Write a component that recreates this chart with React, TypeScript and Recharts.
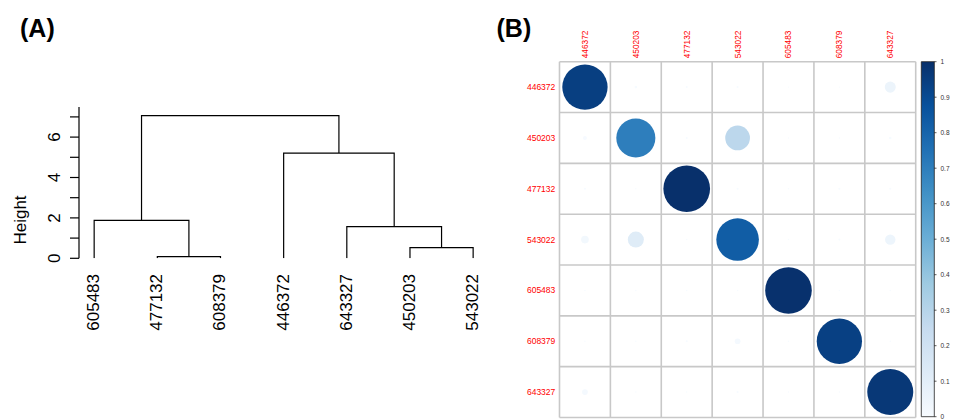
import React from "react";
import {
  LineChart,
  Line,
  XAxis,
  YAxis,
  ScatterChart,
  Scatter,
  ZAxis,
  Cell,
  ReferenceLine,
  BarChart,
  Bar,
} from "recharts";

const FONT = "'Liberation Sans', Arial, Helvetica, sans-serif";

// (A) dendrogram: leaves in plotted order, merges like hclust
// (negative = leaf position, positive = earlier merge step)
const leafOrder = ["605483", "477132", "608379", "446372", "643327", "450203", "543022"];
const mergeLeft = [-2, -6, -5, -1, -4, 4];
const mergeRight = [-3, -7, 2, 1, 3, 5];
const mergeHeight = [0.08, 0.53, 1.57, 1.88, 5.21, 7.06];
const heightTicks = [0, 1, 2, 3, 4, 5, 6, 7];
const heightLabels = [0, 2, 4, 6];

// (B) matrix plot
const sampleLabels = ["446372", "450203", "477132", "543022", "605483", "608379", "643327"];
const row446372 = [0.943, 0.003, 0.002, 0.002, 0.001, 0.001, 0.056];
const row450203 = [0.007, 0.7, 0.002, 0.28, 0.001, 0.001, 0.003];
const row477132 = [0.002, 0.001, 1.0, 0.002, 0.001, 0.002, 0.002];
const row543022 = [0.027, 0.118, 0.001, 0.83, 0.001, 0.002, 0.05];
const row605483 = [0.001, 0.001, 0.001, 0.001, 0.995, 0.001, 0.001];
const row608379 = [0.001, 0.001, 0.002, 0.015, 0.001, 0.94, 0.001];
const row643327 = [0.015, 0.001, 0.001, 0.002, 0.001, 0.001, 0.97];
const matrixRows = [row446372, row450203, row477132, row543022, row605483, row608379, row643327];
const colorbarTicks = [0, 0.1, 0.2, 0.3, 0.4, 0.5, 0.6, 0.7, 0.8, 0.9, 1];

const BLUES = ["#F7FBFF", "#DEEBF7", "#C6DBEF", "#9ECAE1", "#6BAED6", "#4292C6", "#2171B5", "#08519C", "#08306B"];

function hexToRgb(h: string) {
  return [1, 3, 5].map((i) => parseInt(h.slice(i, i + 2), 16));
}

function blues(v: number) {
  const t = Math.max(0, Math.min(1, v)) * (BLUES.length - 1);
  const i = Math.min(Math.floor(t), BLUES.length - 2);
  const f = t - i;
  const a = hexToRgb(BLUES[i]);
  const b = hexToRgb(BLUES[i + 1]);
  const c = a.map((x, k) => Math.round(x + (b[k] - x) * f));
  return `rgb(${c[0]},${c[1]},${c[2]})`;
}

// build dendrogram link paths from the merge table
const nodeX: number[] = [];
const nodeH: number[] = [];
const links: { x: number; y: number }[][] = [];
mergeLeft.forEach((l, i) => {
  const r = mergeRight[i];
  const lx = l < 0 ? -l : nodeX[l - 1];
  const rx = r < 0 ? -r : nodeX[r - 1];
  const lh = l < 0 ? 0 : nodeH[l - 1];
  const rh = r < 0 ? 0 : nodeH[r - 1];
  const h = mergeHeight[i];
  nodeX.push((lx + rx) / 2);
  nodeH.push(h);
  links.push([
    { x: lx, y: lh },
    { x: lx, y: h },
    { x: rx, y: h },
    { x: rx, y: rh },
  ]);
});

const cells: { col: number; row: number; v: number }[] = [];
matrixRows.forEach((vals, r) => {
  vals.forEach((v, c) => cells.push({ col: c + 1, row: r + 1, v }));
});

const idx = [1, 2, 3, 4, 5, 6, 7];
const gridPos = [0.5, 1.5, 2.5, 3.5, 4.5, 5.5, 6.5, 7.5];

const LeafTick = (props: any) => {
  const { x, y, payload } = props;
  return (
    <text
      transform={`translate(${x + 5},${y + 15.7}) rotate(-90)`}
      textAnchor="end"
      fontSize={17}
      fontFamily={FONT}
      fill="#000"
    >
      {leafOrder[payload.value - 1]}
    </text>
  );
};

const HeightTick = (props: any) => {
  const { x, y, payload } = props;
  if (!heightLabels.includes(payload.value)) return <g />;
  return (
    <text
      transform={`translate(${x - 10.5},${y}) rotate(-90)`}
      textAnchor="middle"
      fontSize={17}
      fontFamily={FONT}
      fill="#000"
    >
      {payload.value}
    </text>
  );
};

const ColTick = (props: any) => {
  const { x, y, payload } = props;
  return (
    <text
      transform={`translate(${x + 3},${y - 3.4}) rotate(-90)`}
      textAnchor="start"
      fontSize={8.3}
      fontFamily={FONT}
      fill="#ff0000"
    >
      {sampleLabels[payload.value - 1]}
    </text>
  );
};

const RowTick = (props: any) => {
  const { x, y, payload } = props;
  return (
    <text x={x - 4.2} y={y} dy="0.35em" textAnchor="end" fontSize={8.5} fontFamily={FONT} fill="#ff0000">
      {sampleLabels[payload.value - 1]}
    </text>
  );
};

export default function App() {
  return (
    <div style={{ position: "absolute", left: 0, top: 0, width: 953, height: 419, background: "#fff" }}>
      <div style={{ position: "absolute", left: 0, top: 0 }}>
        <LineChart width={490} height={419} margin={{ top: 107, right: 1.7, bottom: 80.7, left: 19 }}>
          <XAxis
            type="number"
            dataKey="x"
            domain={[0.76, 7.24]}
            ticks={idx}
            interval={0}
            allowDataOverflow
            axisLine={false}
            tickLine={false}
            tickSize={0}
            tickMargin={0}
            height={80}
            tick={LeafTick}
          />
          <YAxis
            type="number"
            domain={[0, 7.49]}
            ticks={heightTicks}
            interval={0}
            allowDataOverflow
            width={60}
            tickSize={9}
            tickMargin={0}
            axisLine={{ stroke: "#000", strokeWidth: 1.2 }}
            tickLine={{ stroke: "#000", strokeWidth: 1.2 }}
            tick={HeightTick}
            label={{
              content: () => (
                <text
                  transform="translate(26,220) rotate(-90)"
                  textAnchor="middle"
                  fontSize={17}
                  fontFamily={FONT}
                  fill="#000"
                >
                  Height
                </text>
              ),
            }}
          />
          {links.map((d, i) => (
            <Line
              key={i}
              data={d}
              dataKey="y"
              type="linear"
              stroke="#000"
              strokeWidth={1.2}
              dot={false}
              activeDot={false}
              isAnimationActive={false}
            />
          ))}
        </LineChart>
      </div>

      <div style={{ position: "absolute", left: 490, top: 0 }}>
        <ScatterChart width={436} height={419} margin={{ top: 11.7, right: 10.3, bottom: 1.5, left: 9.5 }}>
          <XAxis
            type="number"
            dataKey="col"
            orientation="top"
            domain={[0.5, 7.5]}
            ticks={idx}
            interval={0}
            axisLine={false}
            tickLine={false}
            tickSize={0}
            tickMargin={0}
            height={50}
            tick={ColTick}
          />
          <YAxis
            type="number"
            dataKey="row"
            domain={[0.5, 7.5]}
            reversed
            ticks={idx}
            interval={0}
            axisLine={false}
            tickLine={false}
            tickSize={0}
            tickMargin={0}
            width={60}
            tick={RowTick}
          />
          <ZAxis type="number" dataKey="v" domain={[0, 1]} range={[0, 1713]} />
          {gridPos.map((p) => (
            <ReferenceLine key={`v${p}`} x={p} stroke="#c8c8c8" strokeWidth={1.6} />
          ))}
          {gridPos.map((p) => (
            <ReferenceLine key={`h${p}`} y={p} stroke="#c8c8c8" strokeWidth={1.6} />
          ))}
          <Scatter data={cells} shape="circle" isAnimationActive={false}>
            {cells.map((c, i) => (
              <Cell key={i} fill={blues(c.v)} />
            ))}
          </Scatter>
        </ScatterChart>
      </div>

      <div style={{ position: "absolute", left: 900, top: 0 }}>
        <BarChart
          width={53}
          height={419}
          data={[{ k: "scale", v: 1 }]}
          margin={{ top: 61.7, right: 0, bottom: 2.3, left: 21.3 }}
          barCategoryGap={0}
          barGap={0}
        >
          <defs>
            <linearGradient id="bluesGrad" x1="0" y1="1" x2="0" y2="0">
              {BLUES.map((c, i) => (
                <stop key={i} offset={i / (BLUES.length - 1)} stopColor={c} />
              ))}
            </linearGradient>
          </defs>
          <XAxis dataKey="k" hide />
          <YAxis
            type="number"
            orientation="right"
            domain={[0, 1]}
            ticks={colorbarTicks}
            interval={0}
            width={19}
            axisLine={false}
            tickSize={2.5}
            tickMargin={4}
            tickLine={{ stroke: "#333", strokeWidth: 0.8 }}
            tick={{ fontSize: 6.5, fill: "#333", fontFamily: FONT }}
          />
          <Bar dataKey="v" fill="url(#bluesGrad)" stroke="#222" strokeWidth={0.8} isAnimationActive={false} />
        </BarChart>
      </div>

      <svg width={953} height={419} style={{ position: "absolute", left: 0, top: 0, pointerEvents: "none" }}>
        <text x={20} y={36.5} fontSize={25} fontWeight="bold" fontFamily={FONT} fill="#000">
          (A)
        </text>
        <text x={496.5} y={36.5} fontSize={25} fontWeight="bold" fontFamily={FONT} fill="#000">
          (B)
        </text>
      </svg>
    </div>
  );
}
